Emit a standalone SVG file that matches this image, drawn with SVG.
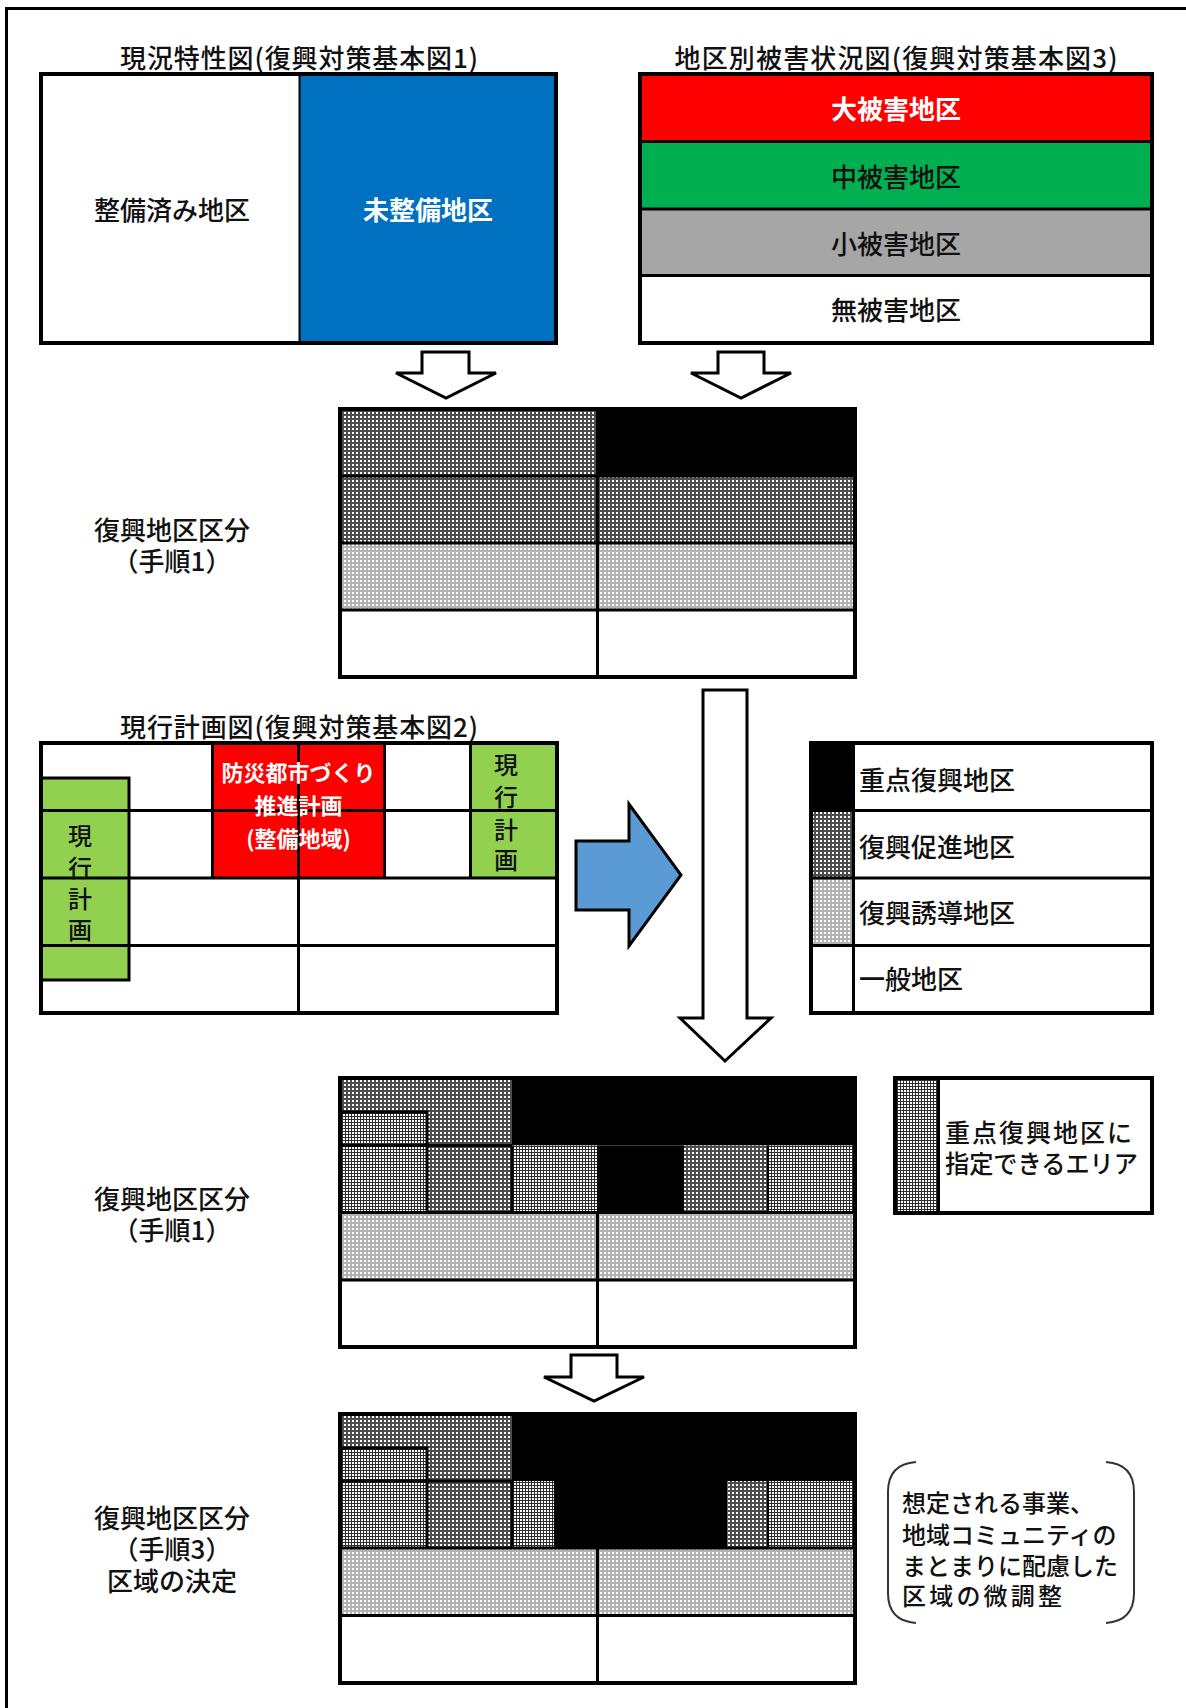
<svg xmlns="http://www.w3.org/2000/svg" width="1186" height="1708" viewBox="0 0 1186 1708">
<defs>
<pattern id="pDense" width="4" height="4" patternUnits="userSpaceOnUse">
<rect width="4" height="4" fill="#4d4d4d"/>
<rect width="2" height="2" fill="#ffffff"/>
</pattern>
<pattern id="pLight" width="4" height="4" patternUnits="userSpaceOnUse">
<rect width="4" height="4" fill="#b3b3b3"/>
<rect width="2" height="2" fill="#ffffff"/>
</pattern>
<pattern id="pGrid" width="3" height="3" patternUnits="userSpaceOnUse">
<rect width="3" height="3" fill="#ffffff"/>
<rect width="1" height="3" fill="#2e2e2e"/>
<rect width="3" height="1" fill="#2e2e2e"/>
</pattern>
</defs>
<style>
text{font-family:"Noto Sans CJK JP","Noto Sans",sans-serif;fill:#111;dominant-baseline:central;font-weight:500}
.t26{font-size:26px}
.t24{font-size:24px}
.c{text-anchor:middle}
.w{fill:#fff;font-weight:bold}
.box{fill:none;stroke:#000;stroke-width:4}
.ln{stroke:#000;stroke-width:3;fill:none}
.thin{stroke:#000;stroke-width:2;fill:none}
.arrow{fill:#fff;stroke:#000;stroke-width:3;stroke-linejoin:miter}
</style>
<rect width="1186" height="1708" fill="#fff"/>
<path d="M6.5,1708 V8.5 H1186" fill="none" stroke="#000" stroke-width="3"/>

<g id="map1">
<text class="t26 c" x="299" y="56" textLength="358">現況特性図(復興対策基本図1)</text>
<rect x="299" y="74" width="257" height="269" fill="#0070C0"/>
<line class="thin" x1="299.5" y1="74" x2="299.5" y2="343"/>
<rect class="box" x="41" y="74" width="515" height="269"/>
<text class="t26 c" x="172" y="208">整備済み地区</text>
<text class="t26 c w" x="428" y="208">未整備地区</text>
</g>

<g id="map3">
<text class="t26 c" x="896" y="56" textLength="443">地区別被害状況図(復興対策基本図3)</text>
<rect x="640" y="74" width="512" height="67.5" fill="#FF0000"/>
<rect x="640" y="141.5" width="512" height="67.5" fill="#00B050"/>
<rect x="640" y="209" width="512" height="66.5" fill="#A6A6A6"/>
<line class="ln" x1="640" y1="141.5" x2="1152" y2="141.5"/>
<line class="ln" x1="640" y1="209" x2="1152" y2="209"/>
<line class="ln" x1="640" y1="275.5" x2="1152" y2="275.5"/>
<rect class="box" x="640" y="74" width="512" height="269"/>
<text class="t26 c w" x="896" y="107">大被害地区</text>
<text class="t26 c" x="896" y="175">中被害地区</text>
<text class="t26 c" x="896" y="242">小被害地区</text>
<text class="t26 c" x="896" y="308">無被害地区</text>
</g>

<g id="grid1">
<rect x="340" y="409" width="257" height="67" fill="url(#pDense)"/>
<rect x="597" y="409" width="258" height="67" fill="#000"/>
<rect x="340" y="476" width="515" height="67" fill="url(#pDense)"/>
<rect x="340" y="543" width="515" height="67" fill="url(#pLight)"/>
<line class="ln" x1="340" y1="476" x2="855" y2="476"/>
<line class="ln" x1="340" y1="543" x2="855" y2="543"/>
<line class="ln" x1="340" y1="610" x2="855" y2="610"/>
<line class="ln" x1="597.5" y1="409" x2="597.5" y2="677"/>
<rect class="box" x="340" y="409" width="515" height="268"/>
<text class="t26 c" x="172" y="528">復興地区区分</text>
<text class="t26 c" x="172" y="559">（手順1）</text>
</g>

<g id="map2">
<text class="t26 c" x="299" y="725" textLength="358">現行計画図(復興対策基本図2)</text>
<rect x="212.5" y="743" width="172" height="135" fill="#FF0000"/>
<rect x="470.5" y="743" width="86.5" height="135" fill="#92D050"/>
<rect x="41" y="778" width="88" height="202" fill="#92D050"/>
<line class="ln" x1="41" y1="810.5" x2="557" y2="810.5"/>
<line class="ln" x1="41" y1="878" x2="557" y2="878"/>
<line class="ln" x1="41" y1="945.5" x2="557" y2="945.5"/>
<line class="ln" x1="212.5" y1="743" x2="212.5" y2="878"/>
<line class="ln" x1="298.5" y1="743" x2="298.5" y2="1013"/>
<line class="ln" x1="384.5" y1="743" x2="384.5" y2="878"/>
<line class="ln" x1="470.5" y1="743" x2="470.5" y2="878"/>
<path class="ln" d="M41,778 H129 V980 H41"/>
<rect class="box" x="41" y="743" width="516" height="270"/>
<text class="c w" style="font-size:22px" x="298.5" y="771">防災都市づくり</text>
<text class="c w" style="font-size:22px" x="298.5" y="804">推進計画</text>
<text class="c w" style="font-size:22px" x="298.5" y="837">(整備地域)</text>
<text class="t24 c" x="506" y="763">現</text>
<text class="t24 c" x="506" y="795">行</text>
<text class="t24 c" x="506" y="828">計</text>
<text class="t24 c" x="506" y="858">画</text>
<text class="t24 c" x="80" y="834">現</text>
<text class="t24 c" x="80" y="866">行</text>
<text class="t24 c" x="80" y="897">計</text>
<text class="t24 c" x="80" y="928">画</text>
</g>

<g id="legend">
<rect x="811" y="743" width="42.5" height="67.5" fill="#000"/>
<rect x="811" y="810.5" width="42.5" height="67.5" fill="url(#pDense)"/>
<rect x="811" y="878" width="42.5" height="67.5" fill="url(#pLight)"/>
<line class="ln" x1="811" y1="810.5" x2="1152" y2="810.5"/>
<line class="ln" x1="811" y1="878" x2="1152" y2="878"/>
<line class="ln" x1="811" y1="945.5" x2="1152" y2="945.5"/>
<line class="ln" x1="853.5" y1="743" x2="853.5" y2="1013"/>
<rect class="box" x="811" y="743" width="341" height="270"/>
<text class="t26" x="859" y="778">重点復興地区</text>
<text class="t26" x="859" y="845">復興促進地区</text>
<text class="t26" x="859" y="911">復興誘導地区</text>
<text class="t26" x="859" y="977">一般地区</text>
</g>

<g id="grid2">
<rect x="340" y="1078" width="172" height="67.5" fill="url(#pDense)"/>
<rect x="512" y="1078" width="343" height="67.5" fill="#000"/>
<rect x="340" y="1112" width="87" height="33.5" fill="url(#pGrid)"/>
<rect x="340" y="1145.5" width="87" height="67" fill="url(#pGrid)"/>
<rect x="427" y="1145.5" width="85" height="67" fill="url(#pDense)"/>
<rect x="512" y="1145.5" width="85" height="67" fill="url(#pGrid)"/>
<rect x="597" y="1145.5" width="87" height="67" fill="#000"/>
<rect x="684" y="1145.5" width="84" height="67" fill="url(#pDense)"/>
<rect x="768" y="1145.5" width="87" height="67" fill="url(#pGrid)"/>
<rect x="340" y="1212.5" width="515" height="67.5" fill="url(#pLight)"/>
<path class="ln" d="M340,1112 H427 V1212.5"/>
<line class="ln" x1="340" y1="1145.5" x2="512" y2="1145.5"/>
<line class="ln" x1="512" y1="1145.5" x2="512" y2="1212.5"/>
<line class="thin" x1="768" y1="1145.5" x2="768" y2="1212.5"/>
<line class="ln" x1="340" y1="1212.5" x2="855" y2="1212.5"/>
<line class="ln" x1="340" y1="1280" x2="855" y2="1280"/>
<line class="ln" x1="597.5" y1="1212.5" x2="597.5" y2="1347"/>
<rect class="box" x="340" y="1078" width="515" height="269"/>
<text class="t26 c" x="172" y="1197">復興地区区分</text>
<text class="t26 c" x="172" y="1228">（手順1）</text>
</g>

<g id="legend2">
<rect x="895" y="1078" width="43.5" height="135" fill="url(#pGrid)"/>
<line class="ln" x1="938.5" y1="1078" x2="938.5" y2="1213"/>
<rect class="box" x="895" y="1078" width="257" height="135"/>
<text style="font-size:25px;letter-spacing:2px" x="945" y="1131">重点復興地区に</text>
<text style="font-size:25px" x="945" y="1162" textLength="193" lengthAdjust="spacingAndGlyphs">指定できるエリア</text>
</g>

<g id="grid3">
<rect x="340" y="1414" width="172" height="67" fill="url(#pDense)"/>
<rect x="512" y="1414" width="343" height="67" fill="#000"/>
<rect x="340" y="1448" width="87" height="33" fill="url(#pGrid)"/>
<rect x="340" y="1481" width="87" height="67" fill="url(#pGrid)"/>
<rect x="427" y="1481" width="85" height="67" fill="url(#pDense)"/>
<rect x="512" y="1481" width="42" height="67" fill="url(#pGrid)"/>
<rect x="554" y="1481" width="173.5" height="67" fill="#000"/>
<rect x="727.5" y="1481" width="40.5" height="67" fill="url(#pDense)"/>
<rect x="768" y="1481" width="87" height="67" fill="url(#pGrid)"/>
<rect x="340" y="1548" width="515" height="67.5" fill="url(#pLight)"/>
<path class="ln" d="M340,1448 H427 V1548"/>
<line class="ln" x1="340" y1="1481" x2="512" y2="1481"/>
<line class="ln" x1="512" y1="1481" x2="512" y2="1548"/>
<line class="thin" x1="768" y1="1481" x2="768" y2="1548"/>
<line class="ln" x1="340" y1="1548" x2="855" y2="1548"/>
<line class="ln" x1="340" y1="1615.5" x2="855" y2="1615.5"/>
<line class="ln" x1="597.5" y1="1548" x2="597.5" y2="1683"/>
<rect class="box" x="340" y="1414" width="515" height="269"/>
<text class="t26 c" x="172" y="1516">復興地区区分</text>
<text class="t26 c" x="172" y="1547">（手順3）</text>
<text class="t26 c" x="172" y="1579">区域の決定</text>
</g>

<g id="note">
<path d="M916,1462 Q888,1464 888,1492 V1593 Q888,1621 916,1623" fill="none" stroke="#333" stroke-width="2"/>
<path d="M1106,1462 Q1134,1464 1134,1492 V1593 Q1134,1621 1106,1623" fill="none" stroke="#333" stroke-width="2"/>
<text style="font-size:24px" x="902" y="1501">想定される事業、</text>
<text style="font-size:24px" x="902" y="1533">地域コミュニティの</text>
<text style="font-size:24px" x="902" y="1564">まとまりに配慮した</text>
<text style="font-size:24px" x="902" y="1594" textLength="160">区域の微調整</text>
</g>

<g id="connectors">
<polygon class="arrow" points="422,352 469,352 469,373 496,373 446,398 396,373 422,373"/>
<polygon class="arrow" points="718,352 764,352 764,373 791,373 741,398 691,373 718,373"/>
<polygon class="arrow" points="703,690 747,690 747,1018 771,1018 725,1061 680,1018 703,1018"/>
<polygon points="576,841 629,841 629,804 681,875 629,946 629,910 576,910" fill="#5B9BD5" stroke="#000" stroke-width="3"/>
<polygon class="arrow" points="571,1355 617,1355 617,1377 644,1377 594,1401 544,1377 571,1377"/>
</g>
</svg>
